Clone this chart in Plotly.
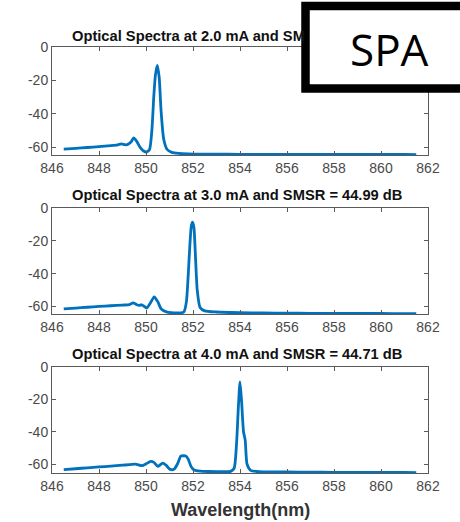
import plotly.graph_objects as go

# ---------------- data ----------------
wl_2mA = [846.5, 847.0, 847.5, 848.0, 848.5, 848.8, 848.95, 849.1, 849.2, 849.35, 849.48,
          849.6, 849.75, 849.9, 850.02, 850.15, 850.25, 850.33, 850.4, 850.48, 850.56,
          850.64, 850.75, 850.9, 851.1, 851.4, 851.8, 852.3, 853.0, 854.0, 855.0, 856.0,
          857.0, 858.0, 859.0, 860.0, 861.0, 861.5]
pw_2mA = [-61.3, -60.8, -60.3, -59.8, -59.2, -58.7, -58.1, -58.6, -58.6, -57.2, -54.6,
          -56.5, -60.2, -62.4, -63.0, -61.5, -50.0, -30.0, -17.0, -11.0, -18.0,
          -38.0, -55.0, -61.5, -63.2, -63.8, -64.1, -64.3, -64.3, -64.4, -64.4, -64.5,
          -64.4, -64.5, -64.5, -64.5, -64.5, -64.6]

wl_3mA = [846.5, 847.0, 847.5, 848.0, 848.5, 849.0, 849.3, 849.45, 849.6, 849.7, 849.8,
          849.9, 850.03, 850.18, 850.35, 850.5, 850.65, 850.9, 851.2, 851.5, 851.62,
          851.72, 851.8, 851.87, 851.93, 851.98, 852.04, 852.1, 852.18, 852.3, 852.5,
          853.0, 854.0, 855.0, 856.0, 857.0, 858.0, 859.0, 860.0, 861.0, 861.5]
pw_3mA = [-61.4, -60.9, -60.4, -59.9, -59.5, -59.1, -58.8, -57.8, -58.8, -59.3, -58.9,
          -59.6, -60.9, -58.0, -54.1, -57.0, -61.5, -63.4, -63.8, -63.8, -63.0,
          -57.0, -40.0, -22.0, -11.0, -8.7, -12.0, -28.0, -50.0, -60.5, -62.6,
          -63.3, -63.7, -63.9, -64.0, -64.1, -64.2, -64.2, -64.2, -64.3, -64.3]

wl_4mA = [846.5, 847.0, 847.5, 848.0, 848.5, 849.0, 849.3, 849.55, 849.83, 850.0, 850.2,
          850.35, 850.5, 850.62, 850.72, 850.85, 851.03, 851.2, 851.35, 851.48, 851.6,
          851.7, 851.8, 851.92, 852.05, 852.3, 852.7, 853.2, 853.6, 853.75, 853.85,
          853.93, 854.0, 854.07, 854.15, 854.22, 854.3, 854.45, 854.7, 855.0, 856.0,
          857.0, 858.0, 859.0, 860.0, 861.0, 861.5]
pw_4mA = [-63.3, -62.8, -62.2, -61.7, -61.2, -60.6, -60.3, -59.9, -60.9, -59.8, -58.3,
          -59.0, -61.3, -60.2, -59.3, -60.6, -63.2, -63.0, -59.5, -55.0, -54.8,
          -55.0, -57.0, -61.5, -63.6, -64.3, -64.5, -64.6, -64.4, -62.5, -48.0,
          -25.0, -9.3, -22.0, -40.0, -45.0, -60.0, -63.8, -64.5, -64.7, -64.8,
          -64.9, -65.0, -65.1, -65.1, -65.1, -65.2]

# first title is hidden by the badge after "SM" in the reference
titles = ["Optical Spectra at 2.0 mA and SM",
          "Optical Spectra at 3.0 mA and SMSR = 44.99 dB",
          "Optical Spectra at 4.0 mA and SMSR = 44.71 dB"]
x_ticks = [846, 848, 850, 852, 854, 856, 858, 860, 862]
y_ticks = [0, -20, -40, -60]
y_tick_text = ["0", "-20", "-40", "-60"]
y_mins = [-64.8, -64.5, -65.6]
x_label = "Wavelength(nm)"
badge = "SPA"

# ---------------- figure ----------------
W, H = 460, 522
series = [(wl_2mA, pw_2mA), (wl_3mA, pw_3mA), (wl_4mA, pw_4mA)]
# plot-area pixel boxes (top, bottom)
boxes = [(47, 155), (207.7, 314), (366.7, 473.3)]
title_y = [36, 195, 354]
x_left, x_right = 52, 428

fig = go.Figure()
axis_col = "#5a5a5a"
label_col = "#4a4a4a"
for i, ((xs, ys), (top, bot)) in enumerate(zip(series, boxes)):
    n = "" if i == 0 else str(i + 1)
    fig.add_trace(go.Scatter(x=xs, y=ys, mode="lines",
                             line=dict(color="#0072BD", width=2.8, shape="spline", smoothing=0.6),
                             xaxis="x" + n, yaxis="y" + n, showlegend=False,
                             hoverinfo="skip"))
    common = dict(showline=True, mirror="ticks", linecolor=axis_col, linewidth=1,
                  ticks="inside", ticklen=4, tickcolor=axis_col, showgrid=False,
                  zeroline=False, automargin=False,
                  tickfont=dict(family="Liberation Sans, Arial", size=14, color=label_col))
    fig.layout["xaxis" + n] = dict(domain=[x_left / W, x_right / W], range=[846, 862],
                                   tickvals=x_ticks, anchor="y" + n, **common)
    fig.layout["yaxis" + n] = dict(domain=[1 - bot / H, 1 - top / H], range=[y_mins[i], 0],
                                   tickvals=y_ticks, ticktext=y_tick_text,
                                   anchor="x" + n, **common)
    fig.add_annotation(text="<b>" + titles[i] + "</b>", xref="paper", yref="paper",
                       x=70 / W, y=1 - title_y[i] / H, xanchor="left", yanchor="middle",
                       showarrow=False,
                       font=dict(family="Liberation Sans, Arial", size=14.7, color="#111111"))

fig.add_annotation(text="<b>" + x_label + "</b>", xref="paper", yref="paper",
                   x=240 / W, y=1 - 510 / H, xanchor="center", yanchor="middle",
                   showarrow=False,
                   font=dict(family="Liberation Sans, Arial", size=18, color="#333333"))

# badge: thick black frame running off the right edge, white inside, then the label
fig.add_shape(type="rect", xref="paper", yref="paper", layer="above",
              x0=305.5 / W, x1=1.15, y0=1 - 88.5 / H, y1=1 - 6 / H,
              line=dict(color="black", width=8.5), fillcolor="white")
fig.add_annotation(text=badge, xref="paper", yref="paper",
                   x=389 / W, y=1 - 49 / H, xanchor="center", yanchor="middle",
                   showarrow=False,
                   font=dict(family="Open Sans", size=44, color="black"))

fig.update_layout(width=W, height=H, margin=dict(l=0, r=0, t=0, b=0, autoexpand=False),
                  paper_bgcolor="white", plot_bgcolor="white")
fig.write_html("out.html", config={"displayModeBar": False, "staticPlot": True},
               post_script="document.body.style.margin='0';document.body.style.overflow='hidden';")
